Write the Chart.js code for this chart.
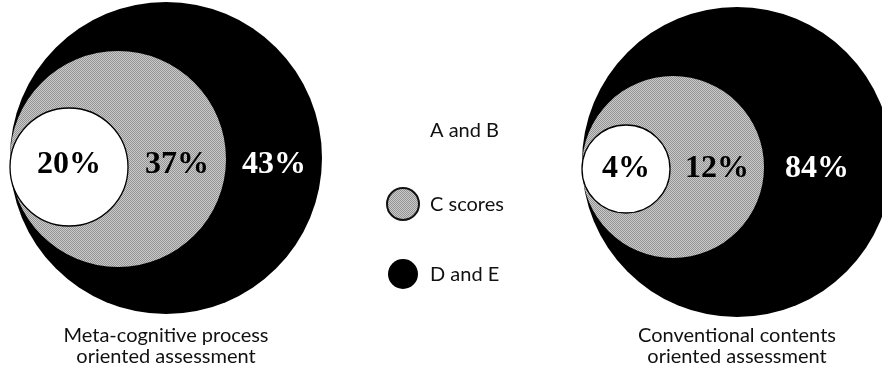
<!DOCTYPE html>
<html>
<head>
<meta charset="utf-8">
<style>
  html, body { margin: 0; padding: 0; background: #fff; }
  #wrap { width: 882px; height: 374px; }
</style>
<script src="https://cdn.jsdelivr.net/npm/chart.js@4/dist/chart.umd.min.js"></script>
</head>
<body>
<div id="wrap"><canvas id="scoresChart" width="882" height="374"></canvas></div>
<script>
// ---- data ----
const grades = ['A and B', 'C scores', 'D and E'];
const metaCognitive = [20, 37, 43];
const conventional = [4, 12, 84];
const captions = [
    ['Meta-cognitive process', 'oriented assessment'],
    ['Conventional contents', 'oriented assessment']
];

// ---- layout (canvas units, scales run 1:1 with the canvas) ----
const panels = [
    { left: 10, radii: [59, 108, 156], cy: [167, 159, 158], labelY: 173, values: metaCognitive, caption: captions[0] },
    { left: 582, radii: [44, 91, 155], cy: [169, 167, 162], labelY: 177, values: conventional, caption: captions[1] }
];
const legendX = 403, legendTextX = 430;
const legendY = [130, 204, 274];
const ringText = ['#000', '#000', '#fff'];

// halftone grey like the print
function greyPattern() {
    const c = document.createElement('canvas');
    c.width = 2; c.height = 2;
    const g = c.getContext('2d');
    g.fillStyle = '#cbcbcb'; g.fillRect(0, 0, 2, 2);
    g.fillStyle = '#939393'; g.fillRect(0, 0, 1, 1); g.fillRect(1, 1, 1, 1);
    return g.createPattern(c, 'repeat');
}

// one dataset per grade, innermost first so it is painted on top
function circles(i) {
    const pts = panels.map(p => ({ x: p.left + p.radii[i], y: p.cy[i], r: p.radii[i] }));
    if (i > 0) pts.push({ x: legendX, y: legendY[i], r: i === 1 ? 16 : 15 });
    return pts;
}

const labelsPlugin = {
    id: 'circleLabels',
    afterDatasetsDraw(chart) {
        const { ctx, scales: { x, y } } = chart;
        ctx.save();
        ctx.textBaseline = 'alphabetic';

        // percentages inside each ring
        ctx.font = 'bold 32px "Liberation Serif", serif';
        ctx.textAlign = 'center';
        panels.forEach(p => {
            const right = p.radii.map(r => Math.min(p.left + 2 * r, 870));
            p.values.forEach((v, i) => {
                const cx = i === 0 ? p.left + p.radii[0] : (right[i - 1] + right[i]) / 2;
                ctx.fillStyle = ringText[i];
                ctx.fillText(v + '%', x.getPixelForValue(cx), y.getPixelForValue(p.labelY));
            });
        });

        // captions under each diagram
        ctx.font = '20px Lato, "Open Sans", sans-serif';
        ctx.fillStyle = '#111';
        panels.forEach(p => {
            const cx = p.left + p.radii[2];
            p.caption.forEach((line, k) => {
                ctx.fillText(line, x.getPixelForValue(cx), y.getPixelForValue(342 + k * 21));
            });
        });

        // legend text
        ctx.textAlign = 'left';
        grades.forEach((g, i) => {
            ctx.fillText(g, x.getPixelForValue(legendTextX), y.getPixelForValue(legendY[i] + 7));
        });
        ctx.restore();
    }
};

const grey = greyPattern();

new Chart(document.getElementById('scoresChart'), {
    type: 'bubble',
    data: {
        datasets: [
            { label: grades[0], data: circles(0), backgroundColor: '#fff', borderColor: '#000', borderWidth: 1.3, clip: false },
            { label: grades[1], data: circles(1), backgroundColor: grey, borderColor: '#111',
              borderWidth: ctx => ctx.dataIndex === 2 ? 2 : 0, clip: false },
            { label: grades[2], data: circles(2), backgroundColor: '#000', borderColor: '#000', borderWidth: 0, clip: false }
        ]
    },
    options: {
        responsive: false,
        animation: false,
        events: [],
        layout: { padding: 0, autoPadding: false },
        plugins: {
            legend: { display: false },
            tooltip: { enabled: false }
        },
        scales: {
            x: { type: 'linear', display: false, min: 0, max: 882 },
            y: { type: 'linear', display: false, min: 0, max: 374, reverse: true }
        }
    },
    plugins: [labelsPlugin]
});
</script>
</body>
</html>
